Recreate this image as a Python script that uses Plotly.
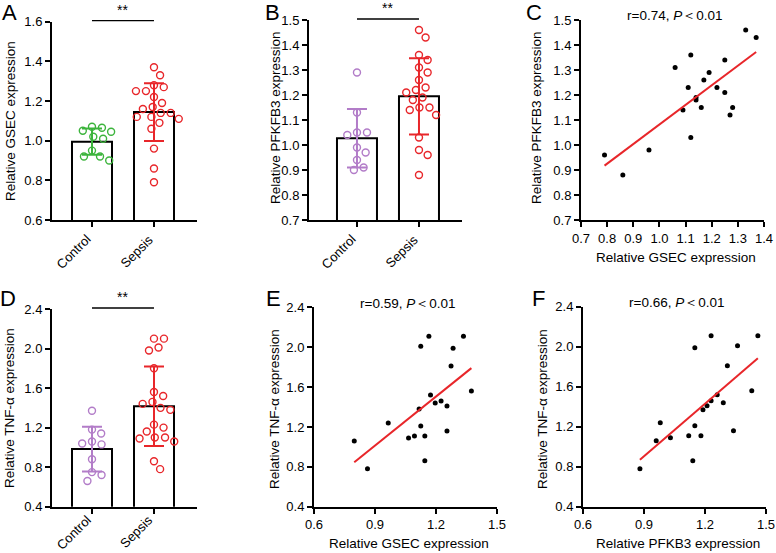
import numpy as np
import plotly.graph_objects as go

W, H = 776, 553
FONT = "Liberation Sans, Arial, sans-serif"

groups = ["Control", "Sepsis"]

# Panel A: relative GSEC expression
gsec_control = [1.07, 1.065, 1.05, 1.045, 1.02, 1.01, 0.95, 0.92, 0.92, 0.90]
gsec_sepsis = [1.37, 1.33, 1.28, 1.27, 1.25, 1.25, 1.22, 1.19, 1.17, 1.16,
               1.14, 1.14, 1.12, 1.12, 1.11, 1.09, 1.06, 0.96, 0.86, 0.79]

# Panel B: relative PFKFB3 expression
pfk_control = [1.29, 1.13, 1.05, 1.05, 1.04, 0.99, 0.97, 0.94, 0.91, 0.90]
pfk_sepsis = [1.46, 1.43, 1.36, 1.34, 1.31, 1.29, 1.26, 1.23, 1.22, 1.21,
              1.19, 1.18, 1.15, 1.15, 1.14, 1.12, 1.03, 0.98, 0.96, 0.88]

# Panel D: relative TNF-alpha expression
tnf_control = [1.37, 1.18, 1.14, 1.06, 1.04, 1.03, 0.88, 0.75, 0.72, 0.66]
tnf_sepsis = [2.10, 2.10, 2.01, 1.98, 1.80, 1.56, 1.52, 1.46, 1.44, 1.40,
              1.38, 1.23, 1.20, 1.16, 1.10, 1.10, 1.09, 1.06, 0.86, 0.78]

# Panel C: GSEC (x) vs PFKFB3 (y)
c_gsec = [0.79, 0.86, 0.96, 1.06, 1.09, 1.11, 1.12, 1.12, 1.14, 1.14,
          1.16, 1.17, 1.19, 1.22, 1.25, 1.25, 1.27, 1.28, 1.33, 1.37]
c_pfk = [0.96, 0.88, 0.98, 1.31, 1.14, 1.23, 1.36, 1.03, 1.19, 1.18,
         1.15, 1.26, 1.29, 1.23, 1.34, 1.21, 1.12, 1.15, 1.46, 1.43]

# Panel E: GSEC (x) vs TNF-alpha (y)
e_gsec = [0.798, 0.863, 0.965, 1.065, 1.094, 1.117, 1.125, 1.125, 1.145, 1.145,
          1.165, 1.173, 1.196, 1.225, 1.254, 1.254, 1.274, 1.284, 1.335, 1.374]
e_tnf = [1.06, 0.78, 1.24, 1.09, 1.11, 1.38, 2.01, 1.21, 1.11, 0.86,
         2.11, 1.52, 1.44, 1.46, 1.41, 1.16, 1.81, 1.99, 2.11, 1.56]

# Panel F: PFKFB3 (x) vs TNF-alpha (y)
f_pfk = [0.88, 0.96, 0.98, 1.03, 1.12, 1.14, 1.15, 1.15, 1.18, 1.19,
         1.21, 1.23, 1.23, 1.26, 1.29, 1.31, 1.34, 1.36, 1.43, 1.46]
f_tnf = [0.78, 1.06, 1.24, 1.09, 1.11, 0.86, 1.99, 1.21, 1.11, 1.37,
         1.41, 2.11, 1.46, 1.52, 1.44, 1.81, 1.16, 2.01, 1.56, 2.11]

corr_labels = {"C": "r=0.74, <i>P</i>\uff1c0.01",
               "E": "r=0.59, <i>P</i>\uff1c0.01",
               "F": "r=0.66, <i>P</i>\uff1c0.01"}

GREEN = "#3cb43c"
PURPLE = "#b27cc8"
RED = "#e8262a"


def px_x(px):
    return px / W


def px_y(py):
    return 1 - py / H


def swarm(values, px_per_unit, d=10.0):
    vals = np.asarray(values, dtype=float)
    order = np.argsort(-vals, kind="stable")
    placed = []
    offs = np.zeros(len(vals))
    for i in order:
        y = vals[i] * px_per_unit
        forb = []
        for xj, yj in placed:
            dy = abs(y - yj)
            if dy < d:
                h = np.sqrt(d * d - dy * dy)
                forb.append((xj - h, xj + h))
        cands = [0.0] + [a for a, b in forb] + [b for a, b in forb]
        cands = sorted(cands, key=lambda c: (round(abs(c), 6), -c))
        for c in cands:
            if all(not (a + 1e-6 < c < b - 1e-6) for a, b in forb):
                offs[i] = c
                break
        placed.append((offs[i], y))
    return offs


fig = go.Figure()
layout = dict(width=W, height=H, autosize=False,
              margin=dict(l=0, r=0, t=0, b=0, pad=0, autoexpand=False),
              paper_bgcolor="white", plot_bgcolor="white", showlegend=False,
              font=dict(family=FONT, color="black"))
annotations = []
shapes = []

base_axis = dict(showline=True, linecolor="black", linewidth=2, ticks="outside",
                 ticklen=5, tickwidth=2, tickcolor="black", showgrid=False,
                 zeroline=False, automargin=False,
                 tickfont=dict(family=FONT, size=13, color="black"),
                 fixedrange=True)

# panel geometry in pixels: x0, x1, ytop, ybottom, label offset below axis
panels = {
    "A": dict(idx=1, box=(52, 197, 21.7, 220), xr=[-0.645, 1.694], yr=[0.6, 1.6], dt=0.2, lab=9),
    "B": dict(idx=2, box=(309, 462, 20, 220), xr=[-0.774, 1.694], yr=[0.7, 1.5], dt=0.1, lab=9),
    "C": dict(idx=3, box=(581, 764, 20, 220), xr=[0.7, 1.4], yr=[0.7, 1.5], dt=0.1),
    "D": dict(idx=4, box=(52, 197, 309, 506.7), xr=[-0.645, 1.694], yr=[0.4, 2.4], dt=0.4, lab=3),
    "E": dict(idx=5, box=(314, 497, 307.3, 506.7), xr=[0.6, 1.5], yr=[0.4, 2.4], dt=0.4),
    "F": dict(idx=6, box=(583, 766, 306.7, 506.7), xr=[0.6, 1.5], yr=[0.4, 2.4], dt=0.4),
}


def axnames(idx):
    s = "" if idx == 1 else str(idx)
    return "x" + s, "y" + s, "xaxis" + s, "yaxis" + s


for name, p in panels.items():
    xa, ya, xk, yk = axnames(p["idx"])
    x0, x1, yt, yb = p["box"]
    y0v, y1v = p["yr"]
    ytv = list(np.round(np.arange(y0v, y1v + 1e-9, p["dt"]), 2))
    xaxis = dict(base_axis, domain=[px_x(x0), px_x(x1)], range=p["xr"], anchor=ya)
    yaxis = dict(base_axis, domain=[px_y(yb), px_y(yt)], range=p["yr"], anchor=xa,
                 tickvals=ytv, tickformat=".1f")
    layout[xk] = xaxis
    layout[yk] = yaxis

# ---------- bar panels ----------
bar_panels = [
    ("A", gsec_control, gsec_sepsis, GREEN),
    ("B", pfk_control, pfk_sepsis, PURPLE),
    ("D", tnf_control, tnf_sepsis, PURPLE),
]
for name, ctrl, seps, ccol in bar_panels:
    p = panels[name]
    xa, ya, xk, yk = axnames(p["idx"])
    x0, x1, yt, yb = p["box"]
    ppx = (x1 - x0) / (p["xr"][1] - p["xr"][0])
    ppy = (yb - yt) / (p["yr"][1] - p["yr"][0])
    layout[xk].update(tickvals=[0, 1], ticktext=groups, showticklabels=False)
    data = [ctrl, seps]
    cols = [ccol, RED]
    means = [float(np.mean(v)) for v in data]
    sds = [float(np.std(v, ddof=1)) for v in data]
    fig.add_trace(go.Bar(x=[0, 1], y=means, width=40 / ppx, base=0,
                         marker=dict(color="white", line=dict(color="black", width=2)),
                         xaxis=xa, yaxis=ya, hoverinfo="skip"))
    for gi, (vals, col) in enumerate(zip(data, cols)):
        offs = swarm(vals, ppy, d=10.0)
        fig.add_trace(go.Scatter(x=gi + offs / ppx, y=vals, mode="markers",
                                 marker=dict(symbol="circle-open", size=7, color=col,
                                             line=dict(width=1.4, color=col)),
                                 xaxis=xa, yaxis=ya, cliponaxis=False))
        fig.add_trace(go.Scatter(x=[gi], y=[means[gi]], mode="markers",
                                 marker=dict(size=1, opacity=0),
                                 error_y=dict(type="data", array=[sds[gi]], color=col,
                                              thickness=2, width=10),
                                 xaxis=xa, yaxis=ya))
        # rotated category label, its end at the tick
        xpix = x0 + (gi - p["xr"][0]) * ppx
        annotations.append(dict(text=groups[gi], xref="paper", yref="paper",
                                x=px_x(xpix + 5), y=px_y(yb + p["lab"]), textangle=-45,
                                showarrow=False, xanchor="right", yanchor="top",
                                font=dict(family=FONT, size=13, color="black")))
    # significance bar
    ysig = yt - 1
    shapes.append(dict(type="line", xref=xa, yref="paper", x0=0, x1=1,
                       y0=px_y(ysig), y1=px_y(ysig), line=dict(color="black", width=1.3)))
    annotations.append(dict(text="**", xref=xa, yref="paper", x=0.5, y=px_y(ysig - 1),
                            showarrow=False, xanchor="center", yanchor="bottom",
                            font=dict(family=FONT, size=14, color="black")))

# ---------- scatter panels ----------
scatter_panels = [
    ("C", c_gsec, c_pfk, "Relative GSEC expression",
     [0.7, 0.8, 0.9, 1.0, 1.1, 1.2, 1.3, 1.4]),
    ("E", e_gsec, e_tnf, "Relative GSEC expression", [0.6, 0.9, 1.2, 1.5]),
    ("F", f_pfk, f_tnf, "Relative PFKB3 expression", [0.6, 0.9, 1.2, 1.5]),
]
for name, xv, yv, xtitle, xt in scatter_panels:
    p = panels[name]
    xa, ya, xk, yk = axnames(p["idx"])
    x0, x1, yt, yb = p["box"]
    layout[xk].update(tickvals=xt, tickformat=".1f")
    fig.add_trace(go.Scatter(x=xv, y=yv, mode="markers",
                             marker=dict(size=5, color="black"),
                             xaxis=xa, yaxis=ya, cliponaxis=False))
    slope, icpt = np.polyfit(xv, yv, 1)
    lx = np.array([min(xv), max(xv)])
    fig.add_trace(go.Scatter(x=lx, y=slope * lx + icpt, mode="lines",
                             line=dict(color=RED, width=2),
                             xaxis=xa, yaxis=ya))
    annotations.append(dict(text=corr_labels[name], xref="paper", yref="paper",
                            x=px_x((x0 + x1) / 2 + 2), y=px_y(yt - 4),
                            showarrow=False, xanchor="center", yanchor="middle",
                            font=dict(family=FONT, size=13.5, color="black")))
    annotations.append(dict(text=xtitle, xref="paper", yref="paper",
                            x=px_x((x0 + x1) / 2 + 3), y=px_y(yb + 37),
                            showarrow=False, xanchor="center", yanchor="middle",
                            font=dict(family=FONT, size=13.5, color="black")))

# y axis titles (pixel centres)
ytitles = [
    ("Relative GSEC expression", 10, 121),
    ("Relative PFKFB3 expression", 275, 118),
    ("Relative PFKFB3 expression", 536, 118),
    ("Relative TNF-\u03b1 expression", 9, 408),
    ("Relative TNF-\u03b1 expression", 274, 409),
    ("Relative TNF-\u03b1 expression", 542, 409),
]
for txt, cx, cy in ytitles:
    annotations.append(dict(text=txt, xref="paper", yref="paper", x=px_x(cx), y=px_y(cy),
                            textangle=-90, showarrow=False, xanchor="center",
                            yanchor="middle",
                            font=dict(family=FONT, size=13.5, color="black")))

# panel letters
letters = [("A", 9, 13), ("B", 272, 13), ("C", 534, 13),
           ("D", 8, 298), ("E", 273, 298), ("F", 538, 298)]
for txt, cx, cy in letters:
    annotations.append(dict(text=txt, xref="paper", yref="paper", x=px_x(cx), y=px_y(cy),
                            showarrow=False, xanchor="center", yanchor="middle",
                            font=dict(family=FONT, size=22, color="black")))

layout["annotations"] = annotations
layout["shapes"] = shapes
fig.update_layout(**layout)
fig.write_html("out.html", config={"displayModeBar": False},
               post_script="document.body.style.margin='0px';"
                           "document.body.style.padding='0px';"
                           "document.body.style.overflow='hidden';")
